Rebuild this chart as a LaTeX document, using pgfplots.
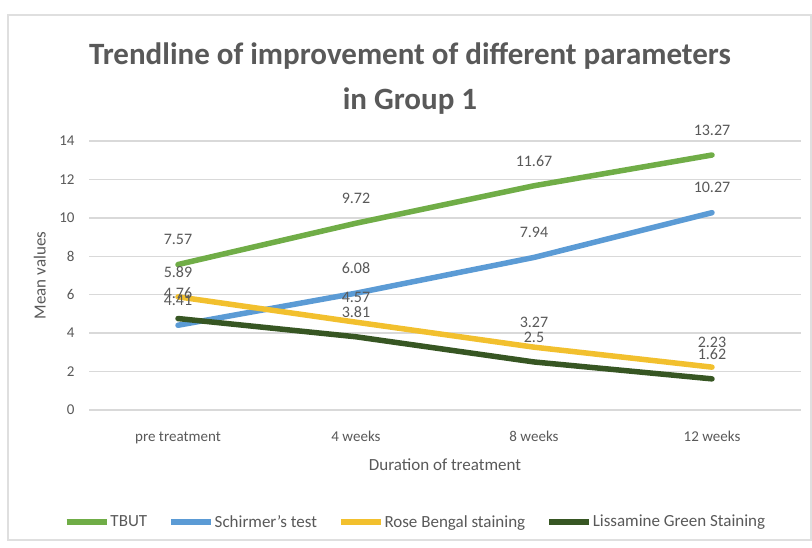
\documentclass[border=0pt]{standalone}
\usepackage{fontspec}
\setmainfont{Carlito}
\usepackage{pgfplots}
\pgfplotsset{compat=1.18}

\definecolor{tbut}{HTML}{70AD47}
\definecolor{schirmer}{HTML}{5B9BD5}
\definecolor{rosebengal}{HTML}{F2C02E}
\definecolor{lissamine}{HTML}{375623}
\definecolor{txtgray}{HTML}{595959}
\definecolor{gridgray}{HTML}{D9D9D9}

\begin{document}
\begin{tikzpicture}[x=1pt,y=1pt]
\useasboundingbox (0,0) rectangle (812,548);
\fill[white] (0,0) rectangle (812,548);
\draw[gray!25, line width=1.2pt] (8,8) rectangle (811,533);

\begin{axis}[
  scale only axis,
  width=712pt, height=269pt,
  at={(89pt,138pt)}, anchor=south west,
  xmin=-0.5, xmax=3.5,
  ymin=0, ymax=14,
  ytick={0,2,...,14},
  xtick=data,
  xticklabels={pre treatment,4 weeks,8 weeks,12 weeks},
  axis line style={draw=none},
  major tick length=0pt,
  ymajorgrids,
  grid style={gridgray, line width=1.5pt},
  clip=false,
  /pgf/number format/assume math mode=true,
  tick label style={font=\fontsize{15}{18}\selectfont, text=txtgray},
  xticklabel style={yshift=-18pt},
  yticklabel style={xshift=-11pt},
  title={Trendline of improvement of different parameters\\in Group 1},
  title style={at={(axis description cs:0.4508,1.21)}, anchor=center,
    align=center, font=\fontsize{31}{45}\selectfont\bfseries, text=txtgray},
  xlabel={Duration of treatment},
  ylabel={Mean values},
  every axis x label/.style={at={(axis description cs:0.5,-0.2045)}, anchor=center},
  every axis y label/.style={at={(axis description cs:-0.069,0.5)}, rotate=90, anchor=center},
  label style={font=\fontsize{17}{20}\selectfont, text=txtgray},
  nodes near coords,
  nodes near coords style={anchor=center, yshift=25pt,
    font=\fontsize{16}{19}\selectfont, text=txtgray},
  legend columns=4,
  legend style={at={(axis description cs:0.458,-0.416)}, anchor=center,
    draw=none, fill=none, font=\fontsize{17}{20}\selectfont, text=txtgray,
    /tikz/every even column/.append style={column sep=20pt},
    nodes={inner xsep=1pt}},
  legend image code/.code={\draw[#1, line cap=butt] (0pt,0pt) -- (40pt,0pt);},
  every axis plot/.append style={line width=5.5pt, line cap=round, line join=round, mark=none},
]
\addplot[tbut]       coordinates {(0,7.57) (1,9.72) (2,11.67) (3,13.27)};
\addplot[schirmer]   coordinates {(0,4.41) (1,6.08) (2,7.94) (3,10.27)};
\addplot[rosebengal] coordinates {(0,5.89) (1,4.57) (2,3.27) (3,2.23)};
\addplot[lissamine]  coordinates {(0,4.76) (1,3.81) (2,2.5) (3,1.62)};
\legend{TBUT,Schirmer's test,Rose Bengal staining,Lissamine Green Staining}
\end{axis}
\end{tikzpicture}
\end{document}
